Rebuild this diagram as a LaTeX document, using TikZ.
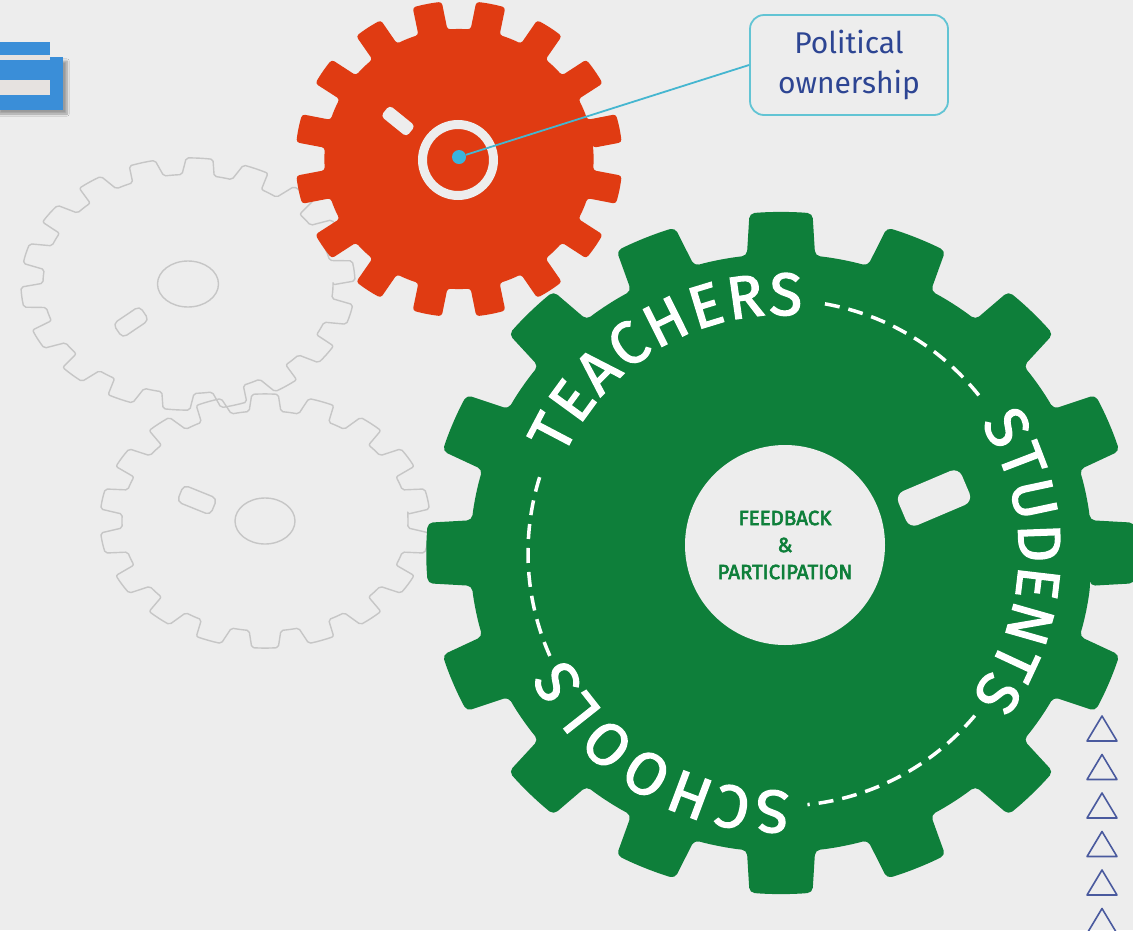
\documentclass[tikz,border=0pt]{standalone}
\usepackage{fontspec}
\setmainfont{Fira Sans}
\newfontfamily\gearfam{Fira Sans}[FakeBold=2.2]
\newfontfamily\hubfam{Fira Sans}[FakeBold=3]
\usetikzlibrary{decorations.text,shadows.blur}
\definecolor{bg}{HTML}{EDEDED}
\definecolor{ggreen}{HTML}{0E7F3A}
\definecolor{gred}{HTML}{E03B12}
\definecolor{cyanl}{HTML}{45B6D0}
\definecolor{cyandot}{HTML}{3AB4DC}
\definecolor{boxline}{HTML}{62C4D4}
\definecolor{txtblue}{HTML}{2D4593}
\definecolor{outl}{HTML}{C6C6C6}
\definecolor{tricol}{HTML}{4A5A9E}
\definecolor{iconblue}{HTML}{3A8ED8}
\definecolor{iconlight}{HTML}{E6E2E0}
% #1 teeth, #2 offset angle, #3 tip radius, #4 root radius, #5 tip half angle, #6 root half angle
\newcommand{\gearshape}[6]{%
  ({#2-#6}:#4)
  \foreach \gi in {1,...,#1}{
    -- ({#2+(\gi-1)*360/#1-#5}:#3)
    arc[start angle={#2+(\gi-1)*360/#1-#5}, end angle={#2+(\gi-1)*360/#1+#5}, radius=#3]
    -- ({#2+(\gi-1)*360/#1+#6}:#4)
    arc[start angle={#2+(\gi-1)*360/#1+#6}, end angle={#2+\gi*360/#1-#6}, radius=#4]
  } -- cycle}
\newcommand{\gearfont}{\gearfam\fontsize{60}{66}\selectfont}
\tikzset{
  outline/.style={draw=outl, line width=1.4pt, line join=round},
  slotbox/.style={fill=bg, inner sep=0pt, rounded corners=#1},
  slotline/.style={draw=outl, line width=1.4pt, inner sep=0pt, rounded corners=5pt},
  dashring/.style={draw=white, line width=3.5pt, dash pattern=on 15pt off 9pt},
  gearword/.style={decorate, decoration={text along path, text={|\gearfont|#1}, text align={fit to path}, text color=white}},
  tri/.style={draw=tricol, line width=1.6pt, line join=round},
}
\begin{document}
\begin{tikzpicture}[x=1pt, y=1pt]
\fill[bg] (0,0) rectangle (1133,-930);
\useasboundingbox (0,0) rectangle (1133,-930);

% blue icon at top left
\fill[iconblue, blur shadow={shadow xshift=4pt, shadow yshift=-4pt, shadow blur steps=8, shadow opacity=35}] (-5,-57) rectangle (63,-110);
\fill[iconblue] (-5,-42) rectangle (50,-55);
\fill[iconlight] (-5,-55) rectangle (50,-60);
\fill[iconlight] (-5,-80) rectangle (50,-95);

% outline gears
\begin{scope}[shift={(188,-284)}, yscale=0.755]
  \draw[outline, rounded corners=2pt] \gearshape{18}{6}{167}{145}{4.6}{6.4};
\end{scope}
\draw[outline] (188,-284) ellipse [x radius=30.5, y radius=23];
\node[slotline, minimum width=32pt, minimum height=17pt, rotate=34] (aslot) at (131,-322) {};
\begin{scope}[shift={(265,-521)}, yscale=0.77]
  \draw[outline, rounded corners=2pt] \gearshape{18}{10}{165}{143}{4.6}{6.4};
\end{scope}
\draw[outline] (265,-521) ellipse [x radius=30, y radius=23];
\node[slotline, minimum width=36pt, minimum height=18pt, rotate=-22] (bslot) at (197,-500) {};

% red gear
\begin{scope}[shift={(459,-159)}, xscale=1.035]
  \fill[gred, rounded corners=3pt] \gearshape{16}{11.25}{158}{130}{5.2}{6.3};
\end{scope}
\node[slotbox=4pt, minimum width=33pt, minimum height=14pt, rotate=-39] (rslot) at (398,-121) {};
\node[circle, draw=bg, line width=9pt, minimum size=71pt, inner sep=0pt] (ring) at (458,-160) {};

% callout
\node[draw=boxline, line width=1.8pt, rounded corners=14pt, fill=bg, minimum width=198pt, minimum height=100pt,
      align=center, text=txtblue, font=\fontsize{30}{40}\selectfont] (pol) at (849,-65) {Political\\ownership};
\node[circle, fill=cyandot, minimum size=14pt, inner sep=0pt] (dot) at (459,-157) {};
\draw[cyanl, line width=1.8pt] (dot) -- (pol.west);

% green gear
\coordinate (gc) at (781,-553);
\begin{scope}[shift={(781,-553)}, xscale=1.04]
  \fill[ggreen, rounded corners=5pt] \gearshape{16}{0}{341}{299}{5.1}{6.3};
\end{scope}
\node[slotbox=9pt, minimum width=69pt, minimum height=37pt, rotate=23] (gslot) at (934,-498) {};
\node[circle, fill=bg, minimum size=200pt, inner sep=0pt, align=center, text=ggreen,
      font=\hubfam\fontsize{20.5}{27}\selectfont] (hub) at (785,-545) {FEEDBACK\\\&\\PARTICIPATION};

% dashed ring pieces
\draw[dashring] ([shift={(80:253)}]gc) arc[start angle=80, end angle=37, radius=253];
\draw[dashring] ([shift={(-40:253)}]gc) arc[start angle=-40, end angle=-84, radius=253];
\draw[dashring] ([shift={(204:253)}]gc) arc[start angle=204, end angle=161, radius=253];

% words along the ring
\path[gearword=TEACHERS] ([shift={(156:238)}]gc) arc[start angle=156, end angle=85, radius=238];
\path[gearword=STUDENTS] ([shift={(33:238)}]gc) arc[start angle=33, end angle=-37, radius=238];
\path[gearword=SCHOOLS] ([shift={(-88:238)}]gc) arc[start angle=-88, end angle=-154, radius=238];

% triangles on the right
\foreach \k in {0,...,5}{
  \draw[tri] (1087,{-741-38.5*\k}) -- (1102,{-716-38.5*\k}) -- (1117,{-741-38.5*\k}) -- cycle;
}
\end{tikzpicture}
\end{document}
